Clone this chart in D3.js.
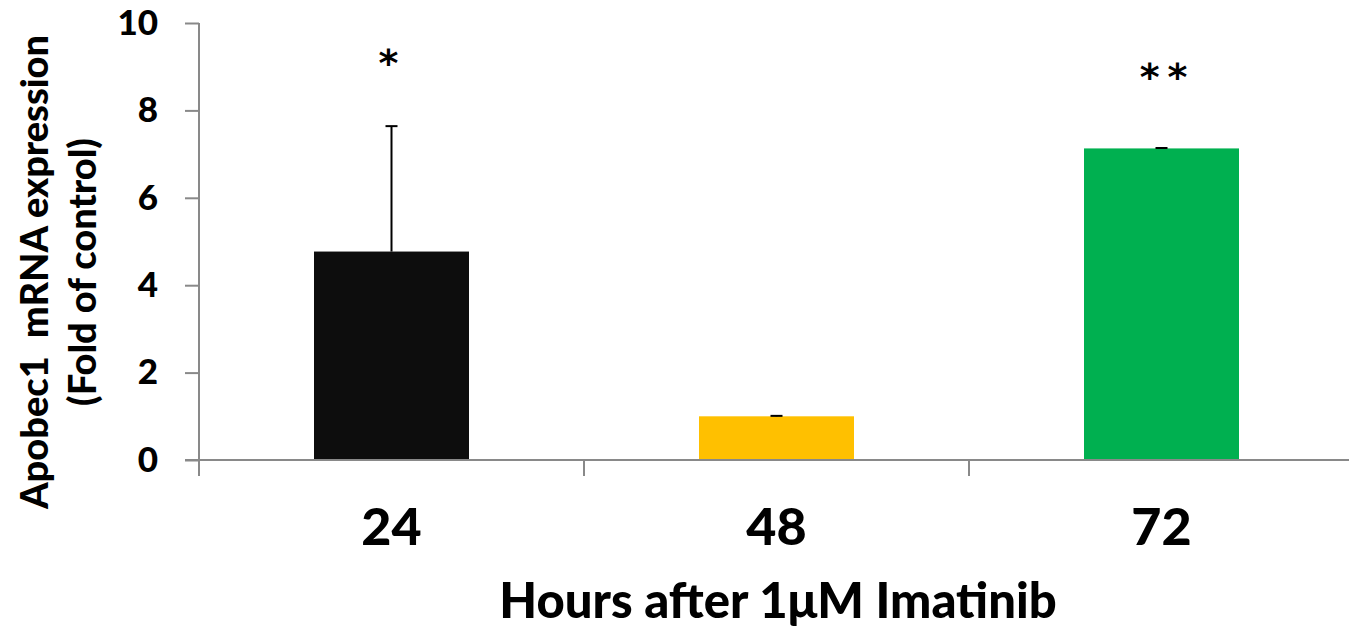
<!DOCTYPE html>
<html><head><meta charset="utf-8">
<script src="https://cdn.jsdelivr.net/npm/d3@7"></script>
<style>body{margin:0;background:#fff}svg{display:block}</style>
</head><body>
<svg id="chart" width="1349" height="630"></svg>
<script>
const categories = ["24", "48", "72"];
const values = [4.77, 1.0, 7.13];
const errors = [2.87, 0.01, 0.01];
const colors = ["#0d0d0d", "#ffc000", "#00b050"];
const marks = ["*", "", "**"];
const yTicks = [0, 2, 4, 6, 8, 10];

(function () {
const svg = d3.select("#chart");
const font = "Lato, 'Open Sans', sans-serif";
const plotLeft = 199, plotTop = 23, plotBottom = 460;

const xb = d3.scaleBand().domain(categories).range([plotLeft, plotLeft + 385 * 3]);
const y = d3.scaleLinear().domain([0, 10]).range([plotBottom, plotTop]);

// y axis
const ya = svg.append("g").attr("transform", `translate(${plotLeft},0)`)
  .call(d3.axisLeft(y).tickValues(yTicks).tickSize(14).tickPadding(27));
ya.select(".domain").attr("stroke", "#898989").attr("stroke-width", 2).attr("d", `M0,${plotTop}V${plotBottom + 16}`);
ya.selectAll(".tick line").attr("stroke", "#898989").attr("stroke-width", 2);
ya.selectAll(".tick text").attr("font-family", font).attr("font-weight", "900").attr("font-size", 35).attr("fill", "#000");

// x axis line and separator ticks
svg.append("line").attr("x1", plotLeft - 14).attr("x2", 1349).attr("y1", plotBottom).attr("y2", plotBottom)
  .attr("stroke", "#898989").attr("stroke-width", 2);
const seps = categories.map(c => xb(c) + xb.bandwidth()).slice(0, -1);
svg.selectAll(".sep").data(seps).join("line")
  .attr("x1", d => d).attr("x2", d => d).attr("y1", plotBottom).attr("y2", plotBottom + 16)
  .attr("stroke", "#898989").attr("stroke-width", 2);

const bw = 155;
const cx = c => xb(c) + xb.bandwidth() / 2;

svg.selectAll(".bar").data(categories).join("rect")
  .attr("x", c => cx(c) - bw / 2).attr("width", bw)
  .attr("y", (c, i) => y(values[i])).attr("height", (c, i) => plotBottom - 1 - y(values[i]))
  .attr("fill", (c, i) => colors[i]);

// error bars
categories.forEach((c, i) => {
  const t = y(values[i] + errors[i]);
  svg.append("line").attr("x1", cx(c)).attr("x2", cx(c)).attr("y1", y(values[i])).attr("y2", t)
    .attr("stroke", "#000").attr("stroke-width", 2);
  svg.append("line").attr("x1", cx(c) - 6).attr("x2", cx(c) + 6).attr("y1", t).attr("y2", t)
    .attr("stroke", "#000").attr("stroke-width", 2);
});

// significance marks
svg.selectAll(".mark").data(categories).join("text")
  .attr("x", (c, i) => cx(c) + (i === 0 ? 1 : 6)).attr("y", (c, i) => i === 0 ? 76 : 90)
  .attr("text-anchor", "middle").attr("font-family", "'DejaVu Sans', sans-serif").attr("font-weight", "bold").attr("font-size", 38)
  .attr("letter-spacing", 8)
  .text((c, i) => marks[i]);

// x category labels
svg.selectAll(".xl").data(categories).join("text")
  .attr("x", c => cx(c)).attr("y", 545).attr("text-anchor", "middle")
  .attr("font-family", font).attr("font-weight", "900").attr("font-size", 52).attr("fill", "#000")
  .text(c => c);

// axis titles
svg.append("text").attr("x", 778).attr("y", 618).attr("text-anchor", "middle")
  .attr("font-family", font).attr("font-weight", "900").attr("font-size", 49)
  .text("Hours after 1μM Imatinib");

const yt = svg.append("text").attr("transform", "translate(0,272) rotate(-90)")
  .attr("text-anchor", "middle").attr("font-family", font).attr("font-weight", "900").attr("font-size", 38);
yt.append("tspan").attr("x", 0).attr("y", 48).text("Apobec1\u00a0\u00a0mRNA expression");
yt.append("tspan").attr("x", 0).attr("y", 96).text("(Fold of control)");
})();
</script>
</body></html>
